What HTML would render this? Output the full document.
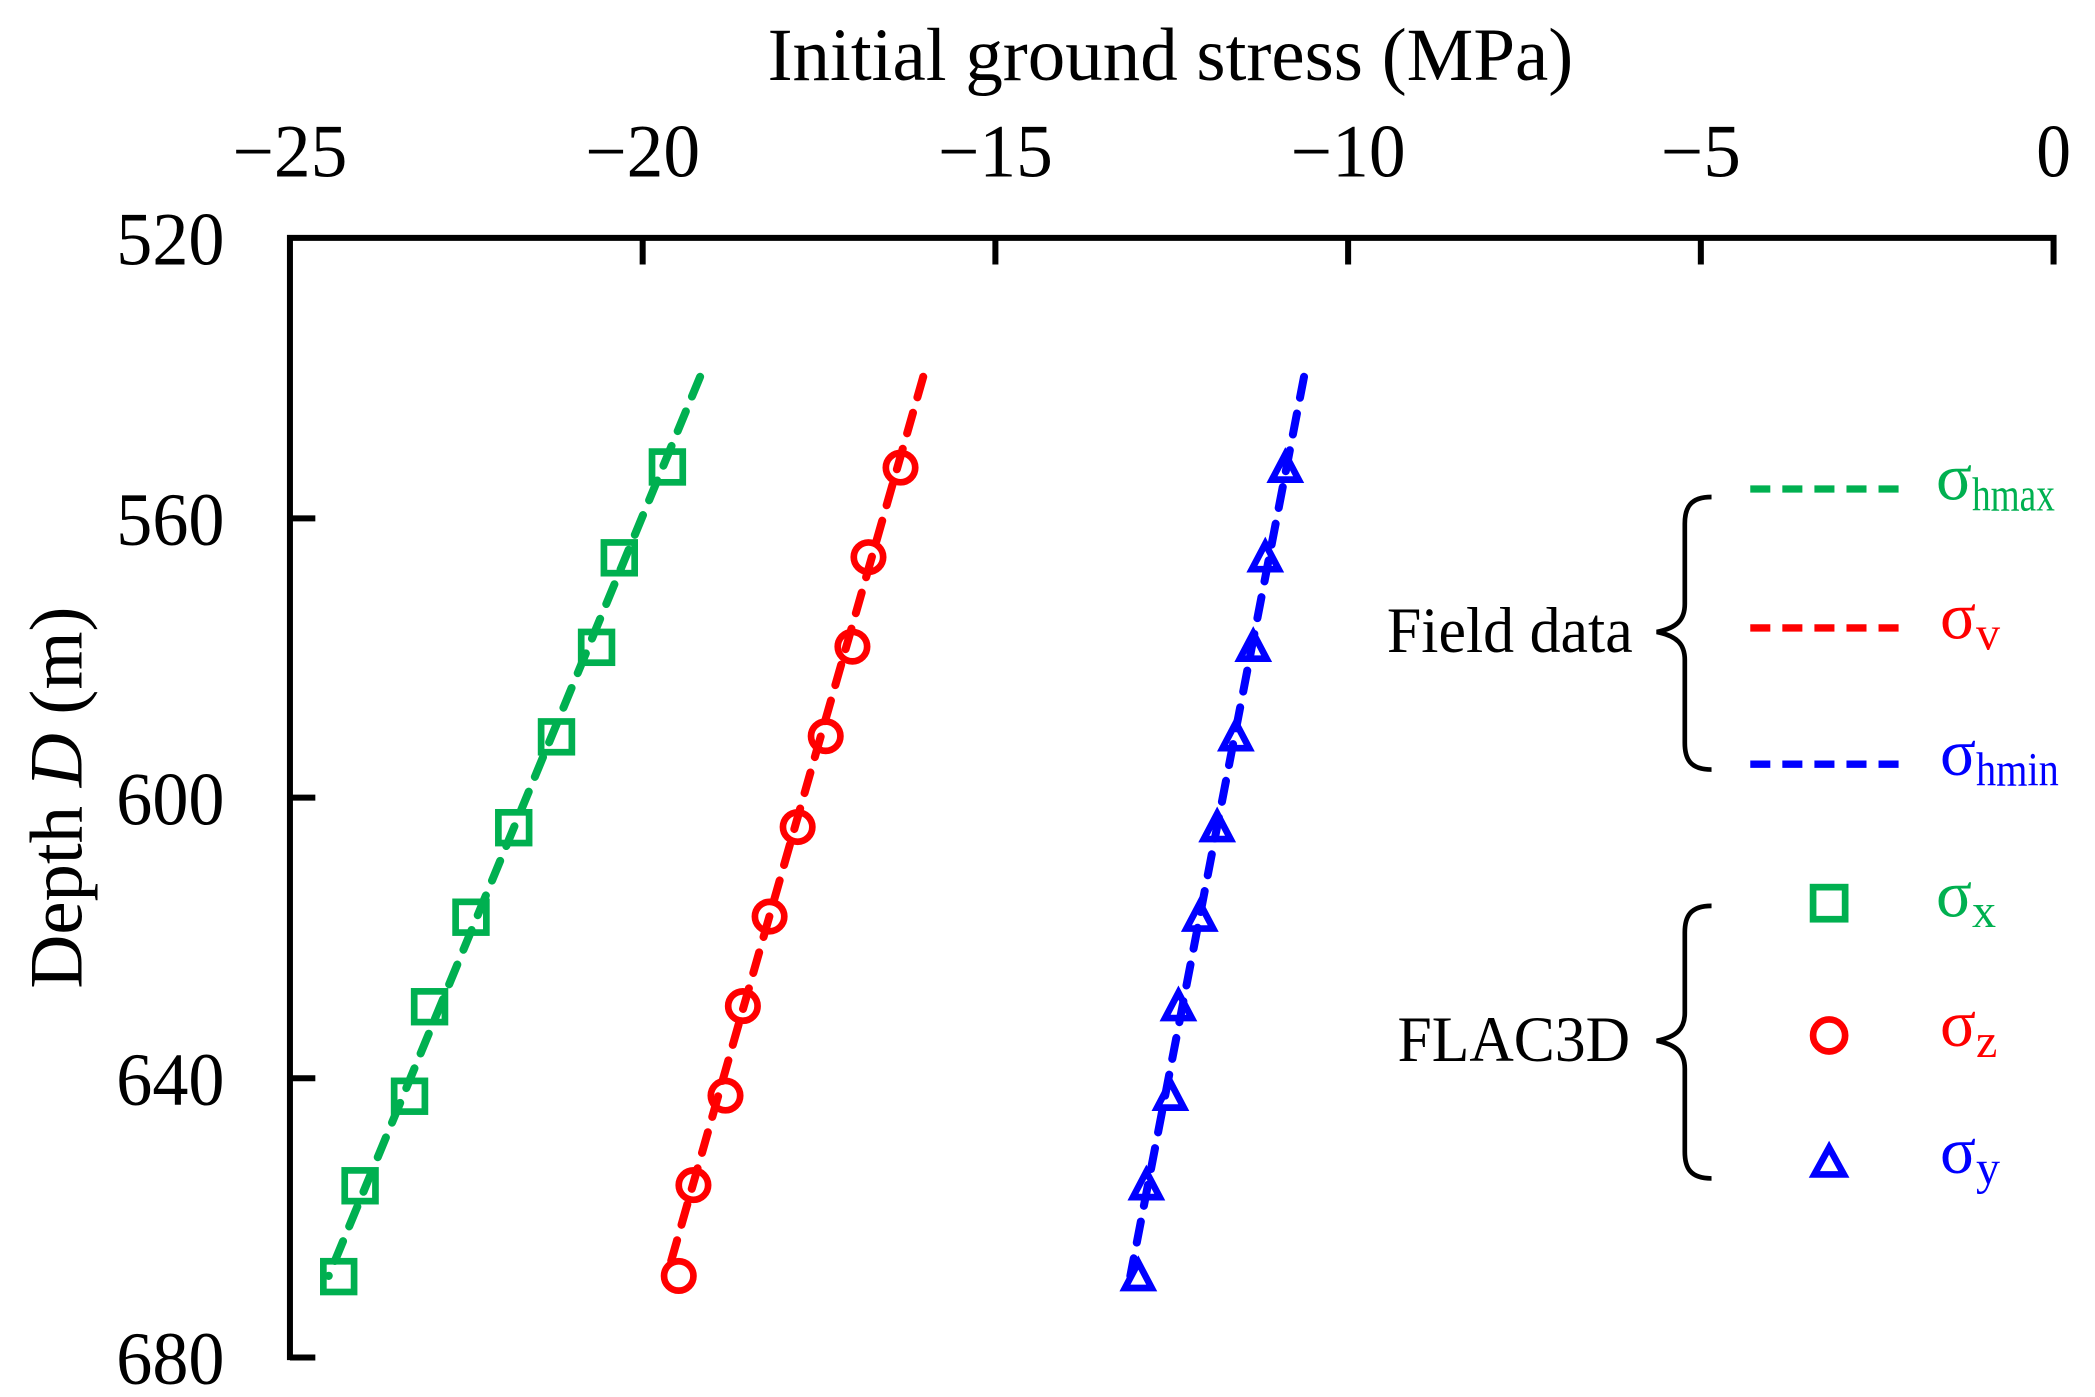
<!DOCTYPE html>
<html><head><meta charset="utf-8"><style>html,body{margin:0;padding:0;background:#fff}svg{display:block}</style></head>
<body>
<svg width="2095" height="1397" viewBox="0 0 1568 1045.6" xmlns="http://www.w3.org/2000/svg" font-family="Liberation Serif, serif">
<rect width="1568" height="1046" fill="#fff"/>
<g stroke="#000" stroke-width="4.5" fill="none">
<path d="M217,1018 V178 H1537 V198"/>
<path d="M481,178v20 M745,178v20 M1009,178v20 M1273,178v20"/>
<path d="M217,388h19 M217,597h19 M217,807h19 M217,1016h19"/>
</g>
<g font-size="56" text-anchor="middle">
<text x="217" y="132" textLength="86" lengthAdjust="spacingAndGlyphs">−25</text>
<text x="481" y="132" textLength="86" lengthAdjust="spacingAndGlyphs">−20</text>
<text x="745" y="132" textLength="86" lengthAdjust="spacingAndGlyphs">−15</text>
<text x="1009" y="132" textLength="86" lengthAdjust="spacingAndGlyphs">−10</text>
<text x="1273" y="132" textLength="60" lengthAdjust="spacingAndGlyphs">−5</text>
<text x="1537" y="132" textLength="26" lengthAdjust="spacingAndGlyphs">0</text>
</g>
<g font-size="56" text-anchor="end">
<text x="168" y="198" textLength="81" lengthAdjust="spacingAndGlyphs">520</text>
<text x="168" y="408" textLength="81" lengthAdjust="spacingAndGlyphs">560</text>
<text x="168" y="617" textLength="81" lengthAdjust="spacingAndGlyphs">600</text>
<text x="168" y="827" textLength="81" lengthAdjust="spacingAndGlyphs">640</text>
<text x="168" y="1036" textLength="81" lengthAdjust="spacingAndGlyphs">680</text>
</g>
<text x="876" y="60" font-size="56" text-anchor="middle" textLength="603" lengthAdjust="spacingAndGlyphs">Initial ground stress (MPa)</text>
<text transform="translate(61,597) rotate(-90)" font-size="56" text-anchor="middle" textLength="286" lengthAdjust="spacingAndGlyphs">Depth <tspan font-style="italic">D</tspan> (m)</text>
<g stroke-width="6" stroke-dasharray="16 12" stroke-linecap="round" fill="none">
<path d="M524,282 L246,955" stroke="#00b050"/>
<path d="M691,282 L500,952" stroke="#ff0000"/>
<path d="M976,282 L846,955" stroke="#0000ff"/>
</g>
<g fill="none" stroke="#00b050" stroke-width="5">
<rect x="488" y="338" width="23" height="23"/><rect x="452" y="406" width="23" height="23"/>
<rect x="435" y="473" width="23" height="23"/><rect x="405" y="540" width="23" height="23"/>
<rect x="373" y="608" width="23" height="23"/><rect x="341" y="675" width="23" height="23"/>
<rect x="310" y="742" width="23" height="23"/><rect x="295" y="809" width="23" height="23"/>
<rect x="258" y="876" width="23" height="23"/><rect x="242" y="944" width="23" height="23"/>
</g>
<g fill="none" stroke="#ff0000" stroke-width="5">
<circle cx="674" cy="350" r="11"/><circle cx="650" cy="417" r="11"/><circle cx="638" cy="484" r="11"/>
<circle cx="618" cy="551" r="11"/><circle cx="597" cy="619" r="11"/><circle cx="576" cy="686" r="11"/>
<circle cx="556" cy="753" r="11"/><circle cx="543" cy="820" r="11"/><circle cx="519" cy="887" r="11"/>
<circle cx="508" cy="955" r="11"/>
</g>
<g fill="none" stroke="#0000ff" stroke-width="5">
<path d="M962,340 l-10,19 h20 z"/><path d="M947,407 l-10,19 h20 z"/><path d="M938,474 l-10,19 h20 z"/>
<path d="M925,541 l-10,19 h20 z"/><path d="M911,609 l-10,19 h20 z"/><path d="M898,676 l-10,19 h20 z"/>
<path d="M882,743 l-10,19 h20 z"/><path d="M876,810 l-10,19 h20 z"/><path d="M858,877 l-10,19 h20 z"/>
<path d="M852,945 l-10,19 h20 z"/>
</g>
<g stroke-width="5.5" stroke-dasharray="15 9" fill="none">
<path d="M1310,366 H1428" stroke="#00b050"/>
<path d="M1310,470 H1428" stroke="#ff0000"/>
<path d="M1310,572 H1428" stroke="#0000ff"/>
</g>
<g fill="none" stroke="#000" stroke-width="3.5">
<path d="M1281,372 C1265,372 1261,380 1261,392 V452 C1261,464 1255,470 1240,473 C1255,476 1261,482 1261,494 V556 C1261,568 1265,576 1281,576"/>
<path d="M1281,678 C1265,678 1261,686 1261,698 V758 C1261,770 1255,776 1240,779 C1255,782 1261,788 1261,800 V862 C1261,874 1265,882 1281,882"/>
</g>
<text x="1038" y="488" font-size="48" textLength="184" lengthAdjust="spacingAndGlyphs">Field data</text>
<text x="1046" y="794" font-size="48" textLength="174" lengthAdjust="spacingAndGlyphs">FLAC3D</text>
<g font-size="50">
<text x="1449" y="374" fill="#00b050">σ<tspan font-size="36" dy="8" textLength="62" lengthAdjust="spacingAndGlyphs">hmax</tspan></text>
<text x="1452" y="478" fill="#ff0000">σ<tspan font-size="36" dy="8">v</tspan></text>
<text x="1452" y="580" fill="#0000ff">σ<tspan font-size="36" dy="8" textLength="62" lengthAdjust="spacingAndGlyphs">hmin</tspan></text>
<text x="1449" y="686" fill="#00b050">σ<tspan font-size="36" dy="8">x</tspan></text>
<text x="1452" y="783" fill="#ff0000">σ<tspan font-size="36" dy="8">z</tspan></text>
<text x="1452" y="878" fill="#0000ff">σ<tspan font-size="36" dy="8">y</tspan></text>
</g>
<rect x="1357" y="664" width="24" height="24" fill="none" stroke="#00b050" stroke-width="5"/>
<circle cx="1369" cy="775" r="12" fill="none" stroke="#ff0000" stroke-width="5"/>
<path d="M1369,859 l-11,20 h22 z" fill="none" stroke="#0000ff" stroke-width="5"/>
</svg>
</body></html>
